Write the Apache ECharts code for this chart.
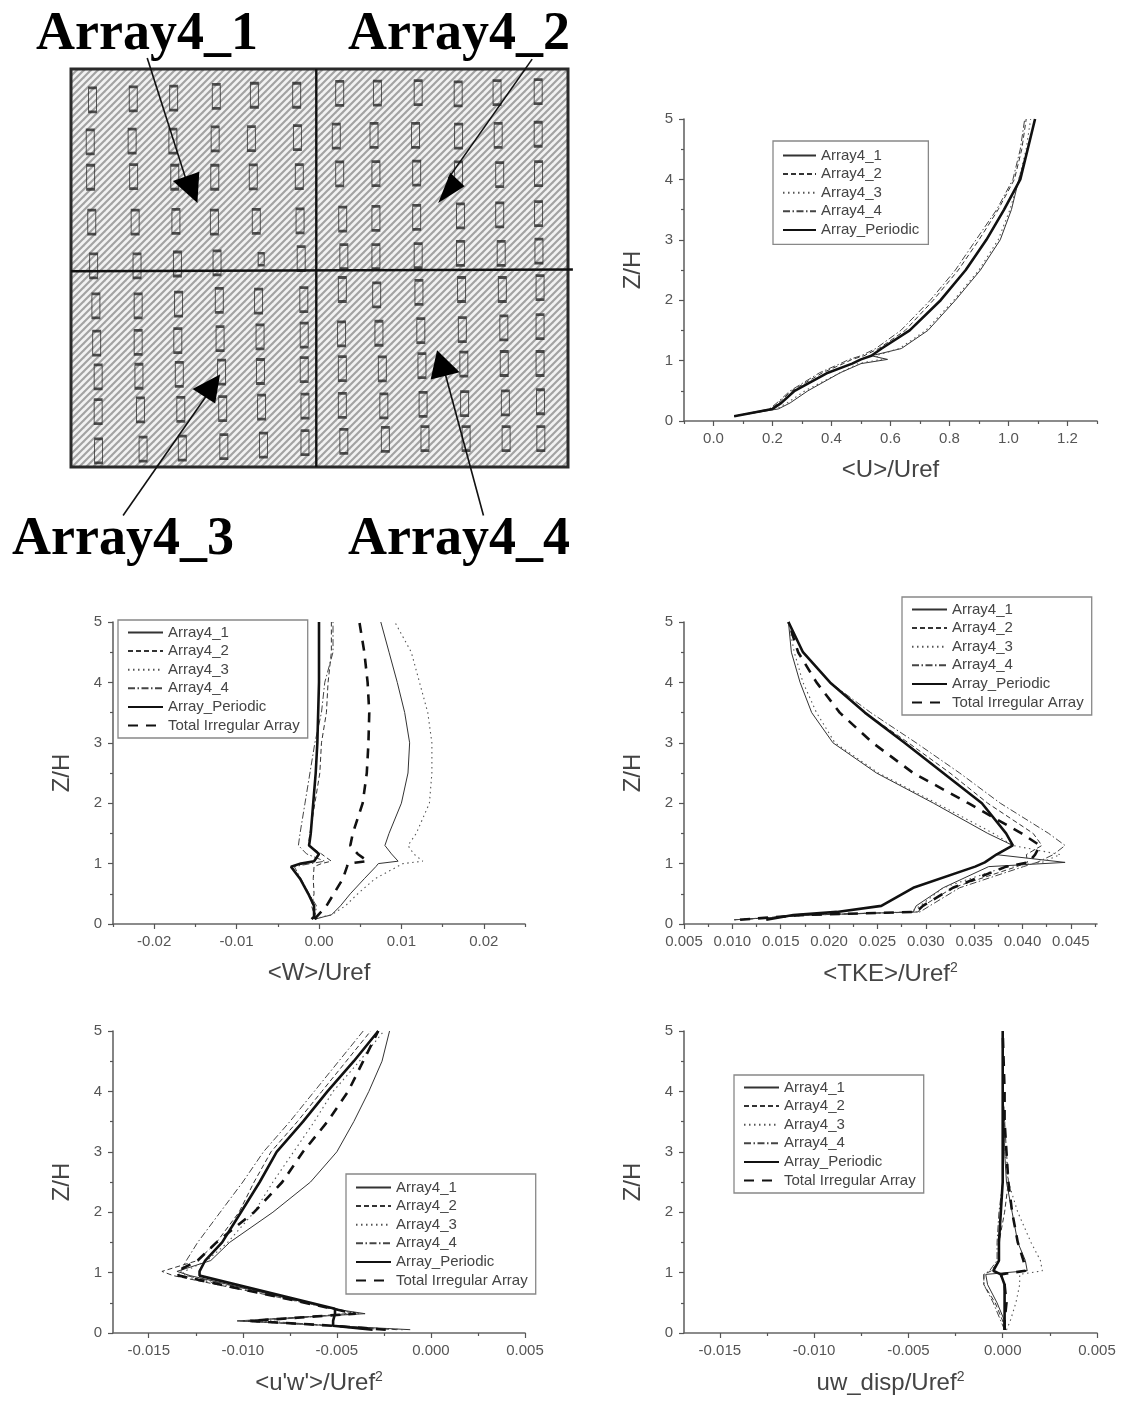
<!DOCTYPE html>
<html><head><meta charset="utf-8">
<style>html,body{margin:0;padding:0;background:#fff}#c{width:1121px;height:1401px;filter:blur(0.45px)}</style>
<script src="https://cdn.jsdelivr.net/npm/echarts@6/dist/echarts.min.js"></script>
</head><body><div id="c"></div>
<script>
// ---------- series names ----------
const names = ['Array4_1','Array4_2','Array4_3','Array4_4','Array_Periodic','Total Irregular Array'];

// ---------- panel <U>/Uref ----------
const zU  = [0.08,0.2,0.3,0.5,0.8,0.95,1.02,1.08,1.2,1.5,2,2.5,3,3.5,4,4.5,5];
const uA1 = [.07,.22,.26,.32,.43,.50,.59,.535,.637,.727,.82,.905,.972,1.01,1.035,1.065,1.09];
const uA2 = [.07,.195,.22,.265,.37,.44,.47,.51,.56,.65,.745,.83,.90,.965,1.02,1.045,1.06];
const uA3 = [.07,.215,.25,.31,.43,.49,.57,.55,.63,.72,.815,.90,.965,1.005,1.035,1.06,1.075];
const uA4 = [.07,.19,.215,.26,.36,.43,.46,.50,.55,.635,.735,.82,.89,.96,1.015,1.04,1.055];
const uP  = [.07,.2,.23,.275,.388,.47,.50,.535,.57,.665,.77,.855,.925,.985,1.04,1.065,1.09];
const uMajor = [0,.2,.4,.6,.8,1,1.2];
const uMinor = [-.1,.1,.3,.5,.7,.9,1.1,1.3];

// ---------- panel <W>/Uref ----------
const zW  = [.08,.12,.15,.3,.5,.75,.95,1.0,1.04,1.16,1.3,1.5,2,2.5,3,3.5,4,4.5,5];
const wA1 = [-.0005,.0006,.0015,.0026,.0038,.0055,.0069,.0072,.0096,.0088,.008,.0085,.01,.0108,.011,.0104,.0095,.0085,.0075];
const wA2 = [-.0005,-.0005,-.0004,-.0009,-.0006,-.0007,-.0006,.0003,.0015,.0003,-.0013,-.0011,-.0005,.0001,.0003,.0009,.0011,.0015,.0015];
const wA3 = [-.0005,.0004,.0015,.0032,.0047,.0068,.0095,.0102,.0126,.0115,.0108,.0118,.0134,.0137,.0137,.0132,.0122,.0112,.0092];
const wA4 = [-.0007,-.0005,-.0003,-.0003,-.0012,-.0022,-.003,-.001,.0007,-.0015,-.0025,-.0023,-.0017,-.0011,-.0005,.0003,.0007,.0017,.0017];
const wP  = [-.0009,-.0006,-.0004,-.0006,-.0013,-.0023,-.0034,-.0022,-.0006,0,-.0012,-.001,-.0007,-.0004,-.0002,-.0001,0,0,0];
const wT  = [-.0005,-.0003,-.0001,.0009,.0018,.0029,.0034,.0035,.0059,.0047,.0038,.0041,.0053,.0058,.006,.0061,.0059,.0055,.0049];
const wMajor = [-.02,-.01,0,.01,.02];
const wMinor = [-.025,-.015,-.005,.005,.015,.025];

// ---------- panel <TKE>/Uref2 ----------
const zK  = [.07,.15,.2,.3,.6,.95,1.02,1.15,1.3,1.5,2,2.5,3,3.5,4,4.5,5];
const kA1 = [.0102,.0185,.0287,.029,.0318,.0365,.0444,.0372,.039,.0364,.0308,.0249,.0204,.0182,.017,.0161,.0158];
const kA2 = [.0108,.0172,.0292,.0297,.0328,.0394,.0405,.0404,.042,.0411,.0364,.0325,.0282,.0237,.0201,.0173,.0158];
const kA3 = [.0102,.018,.0285,.0294,.0318,.0383,.042,.0439,.039,.037,.0311,.0251,.0206,.0187,.0173,.0164,.0158];
const kA4 = [.0102,.0185,.0294,.0304,.0335,.0401,.0415,.0432,.0444,.0427,.0377,.0335,.029,.0243,.0201,.0173,.0158];
const kP  = [.0135,.0163,.0208,.0254,.0287,.0351,.0361,.0373,.039,.0383,.0358,.0318,.0278,.0237,.0201,.0173,.0158];
const kT  = [.0108,.0172,.029,.0297,.0328,.0383,.0406,.0413,.0418,.0399,.0344,.0287,.0245,.0211,.0187,.0168,.0158];
const kMajor = [.005,.01,.015,.02,.025,.03,.035,.04,.045];
const kMinor = [.0075,.0125,.0175,.0225,.0275,.0325,.0375,.0425,.0475];

// ---------- panel <u'w'>/Uref2 ----------
const zS  = [.055,.12,.2,.32,.4,.95,1.02,1.2,1.5,2,2.5,3,3.5,4,4.5,5];
const sA1 = [-.0011,-.0052,-.0103,-.0035,-.0052,-.0128,-.0135,-.0117,-.0107,-.0084,-.0064,-.005,-.0041,-.0033,-.0026,-.0022];
const sA2 = [-.0018,-.0052,-.0100,-.0040,-.0051,-.0137,-.0143,-.0124,-.0114,-.0102,-.0094,-.0085,-.0071,-.0058,-.0045,-.0032];
const sA3 = [-.0015,-.0053,-.0102,-.0038,-.0053,-.0133,-.0131,-.0119,-.0108,-.0094,-.0084,-.0073,-.0062,-.0052,-.0038,-.0025];
const sA4 = [-.0025,-.0051,-.0090,-.0045,-.0050,-.0130,-.0133,-.0130,-.0124,-.0112,-.0100,-.0089,-.0075,-.0062,-.0049,-.0036];
const sP  = [-.0031,-.0052,-.0052,-.0051,-.0051,-.0123,-.0123,-.012,-.0111,-.0101,-.0091,-.0082,-.0068,-.0055,-.0041,-.0028];
const sT  = [-.0024,-.0052,-.0096,-.0040,-.0052,-.0134,-.0135,-.0124,-.0114,-.0094,-.0079,-.0068,-.0055,-.0044,-.0036,-.0028];
const sMajor = [-.015,-.01,-.005,0,.005];
const sMinor = [-.0125,-.0075,-.0025,.0025];

// ---------- panel uw_disp/Uref2 ----------
const zD  = [.05,.2,.5,.8,.97,1.03,1.2,1.5,2,2.5,3,3.5,4,5];
const dA1 = [.0001,.0001,-.0003,-.0008,-.0009,.0013,.0012,.0008,.0005,.0002,.0001,.0001,0,0];
const dA2 = [.0001,0,-.0004,-.001,-.001,-.0006,-.0002,-.0002,.0001,.0003,.0002,.0001,0,0];
const dA3 = [.0002,.0004,.0007,.0009,.0009,.0021,.002,.0015,.0008,.0003,.0001,.0001,0,0];
const dA4 = [.0001,-.0001,-.0005,-.001,-.001,-.0007,-.0003,-.0003,-.0002,0,0,0,0,0];
const dP  = [.0001,.0001,.0001,.0001,-.0001,-.0005,-.0002,-.0002,-.0001,0,0,0,0,0];
const dT  = [.0001,.0001,.0002,.0001,-.0001,.0012,.0011,.0008,.0005,.0003,.0002,.0001,.0001,0];

// ---------- schematic (plan of the array, in drawing units) ----------
const planFrame = [[190,190,1507,1282]];
const planBuildings = [
 [247,275],[355,272],[462,270],[575,265],[676,262],[788,262],
 [241,390],[352,388],[460,388],[572,382],[668,381],[790,378],
 [242,487],[356,485],[465,487],[571,487],[673,486],[795,485],
 [245,610],[360,610],[468,608],[570,610],[681,608],[797,607],
 [250,730],[365,730],[472,725],[577,722],[800,710],
 [902,257],[1002,256],[1110,255],[1216,258],[1319,255],[1428,252],
 [893,374],[993,372],[1103,372],[1217,374],[1322,372],[1428,369],
 [902,478],[998,477],[1106,476],[1217,478],[1326,480],[1429,477],
 [910,602],[998,600],[1106,597],[1222,593],[1326,590],[1429,587],
 [913,705],[998,705],[1110,702],[1222,696],[1330,696],[1430,690],
 [256,840],[368,840],[475,835],[583,825],[687,827],[807,823],
 [258,942],[368,940],[473,935],[585,930],[691,925],[808,920],
 [262,1035],[370,1033],[477,1028],[589,1022],[692,1020],[808,1015],
 [262,1130],[374,1125],[481,1124],[592,1122],[695,1118],[810,1115],
 [263,1238],[381,1233],[485,1230],[595,1226],[700,1222],[810,1215],
 [909,795],[1000,810],[1112,803],[1225,795],[1333,795],[1433,790],
 [907,917],[1006,915],[1117,908],[1227,905],[1337,900],[1433,897],
 [909,1012],[1015,1013],[1120,1004],[1231,1000],[1338,998],[1433,998],
 [909,1113],[1019,1114],[1123,1110],[1233,1108],[1341,1106],[1434,1103],
 [913,1212],[1023,1206],[1128,1204],[1237,1204],[1343,1204],[1435,1204]
];
const planSmallBuildings = [[694,712]];
const planDividers = [[840,190,840,1282],[190,745,1520,740]];
const planArrowShafts = [[392,160,500,510],[1412,163,1190,490],[328,1415,560,1070],[1283,1415,1180,1020]];
const planArrowHeads = [
 [525,558,530,472,460,497],
 [1163,558,1195,475,1233,512],
 [585,1028,512,1068,572,1108],
 [1160,962,1143,1042,1220,1022]
];
const planLabels = ['Array4_1','Array4_2','Array4_3','Array4_4'];

// ---------- build ----------
const FONT = '"Liberation Sans", Arial, sans-serif';
const INK = '#444';
const styles = [
 {width:1,  type:'solid',   color:'#333'},
 {width:1,  type:[5,3],     color:'#333'},
 {width:1.1,type:[1.5,3.5], color:'#555'},
 {width:1,  type:[7,2.5,1.5,2.5], color:'#444'},
 {width:2.6,type:'solid',   color:'#111'},
 {width:2.6,type:[10,8],    color:'#111'}
];
const panels = [
 {box:[684,119,413,302], x:[-.1,1.3], major:uMajor, minor:uMinor, fmt:1, name:'<U>/Uref', z:zU, vals:[uA1,uA2,uA3,uA4,uP],
  legend:{left:773,top:141,w:33,pad:[7,9,7,9],gap:3.6}},
 {box:[113,622,412,302], x:[-.025,.025], major:wMajor, minor:wMinor, fmt:2, name:'<W>/Uref', z:zW, vals:[wA1,wA2,wA3,wA4,wP,wT],
  legend:{left:118,top:620,w:35,pad:[5,8,5,9],gap:3.6}},
 {box:[684,622,413,302], x:[.005,.0477], major:kMajor, minor:kMinor, fmt:3, name:'<TKE>/Uref{sup|2}', z:zK, vals:[kA1,kA2,kA3,kA4,kP,kT],
  legend:{left:902,top:597,w:35,pad:[5,8,5,9],gap:3.6}},
 {box:[113,1031,412,302], x:[-.0169,.005], major:sMajor, minor:sMinor, fmt:3, name:"<u'w'>/Uref{sup|2}", z:zS, vals:[sA1,sA2,sA3,sA4,sP,sT],
  legend:{left:346,top:1174,w:35,pad:[6,8,6,9],gap:3.6}},
 {box:[684,1031,413,302], x:[-.0169,.005], major:sMajor, minor:sMinor, fmt:3, name:'uw_disp/Uref{sup|2}', z:zD, vals:[dA1,dA2,dA3,dA4,dP,dT],
  legend:{left:734,top:1075,w:35,pad:[5,8,5,9],gap:3.6}}
];
const axisLine = {show:true, onZero:false, lineStyle:{color:'#666', width:1.6}};
const grid=[], xAxis=[], yAxis=[], series=[], legend=[];
panels.forEach((p,i)=>{
  grid.push({left:p.box[0],top:p.box[1],width:p.box[2],height:p.box[3]});
  const gi=grid.length-1;
  const xMain=xAxis.length;
  xAxis.push({type:'value',gridIndex:gi,min:p.x[0],max:p.x[1],position:'bottom',
    axisLine, splitLine:{show:false},
    axisTick:{show:true,length:5,customValues:p.major,lineStyle:{color:'#555',width:1.2}},
    axisLabel:{show:true,customValues:p.major,margin:10,color:'#555',fontFamily:FONT,fontSize:15,
      hideOverlap:false,showMinLabel:true,showMaxLabel:true,
      formatter:v=>Number(v).toFixed(p.fmt)},
    name:p.name,nameLocation:'middle',nameGap:37,
    nameTextStyle:{color:INK,fontFamily:FONT,fontSize:24,
      rich:{sup:{fontFamily:FONT,fontSize:14,color:INK,verticalAlign:'top',padding:[0,0,12,0]}}}});
  xAxis.push({type:'value',gridIndex:gi,min:p.x[0],max:p.x[1],position:'bottom',
    axisLine:{show:false},splitLine:{show:false},axisLabel:{show:false},
    axisTick:{show:true,length:3,customValues:p.minor,lineStyle:{color:'#555',width:1.2}}});
  yAxis.push({type:'value',gridIndex:gi,min:0,max:5,interval:1,position:'left',
    axisLine,splitLine:{show:false},
    axisTick:{show:true,length:5,lineStyle:{color:'#555',width:1.2}},
    minorTick:{show:true,splitNumber:2,length:3,lineStyle:{color:'#555',width:1.2}},
    axisLabel:{margin:11,color:'#555',fontFamily:FONT,fontSize:15},
    name:'Z/H',nameLocation:'middle',nameGap:39,nameRotate:90,
    nameTextStyle:{color:INK,fontFamily:FONT,fontSize:24}});
  p.vals.forEach((v,k)=>{
    series.push({type:'line',name:names[k],xAxisIndex:xMain,yAxisIndex:gi,
      data:v.map((x,j)=>[x,p.z[j]]),symbol:'none',silent:true,clip:false,
      lineStyle:styles[k],itemStyle:{color:styles[k].color},z:3+k,animation:false});
  });
  const L=p.legend;
  legend.push({show:true,orient:'vertical',left:L.left,top:L.top,selectedMode:false,
    data:names.slice(0,p.vals.length),itemWidth:L.w,itemHeight:14,itemGap:L.gap,padding:L.pad,
    itemStyle:{opacity:0,color:'transparent',borderColor:'transparent',borderWidth:0},
    borderColor:'#888',borderWidth:1.3,backgroundColor:'#fff',z:20,
    textStyle:{color:INK,fontFamily:FONT,fontSize:15,lineHeight:14}});
});

// schematic grid: drawing units mapped onto the plan's rectangle
grid.push({left:71,top:69,width:497,height:398});
const gS=grid.length-1, xS=xAxis.length, yS=yAxis.length;
xAxis.push({type:'value',gridIndex:gS,min:190,max:1507,show:false});
yAxis.push({type:'value',gridIndex:gS,min:190,max:1282,inverse:true,show:false});
function hatch(){
  const c=document.createElement('canvas'); c.width=7; c.height=7;
  const g=c.getContext('2d'); g.fillStyle='#f2f2f2'; g.fillRect(0,0,7,7);
  g.strokeStyle='#a2a2a2'; g.lineWidth=2.1; g.lineCap='square';
  [[-7,7,7,-7],[0,7,7,0],[0,14,14,0]].forEach(s=>{g.beginPath();g.moveTo(s[0],s[1]);g.lineTo(s[2],s[3]);g.stroke();});
  return c;
}
const onPlan={xAxisIndex:xS,yAxisIndex:yS,silent:true,clip:false,animation:false};
series.push(Object.assign({type:'custom',name:'plan',data:planFrame,z:1,
  renderItem:(ps,api)=>{
    const a=api.coord([api.value(0),api.value(1)]), b=api.coord([api.value(2),api.value(3)]);
    return {type:'rect',shape:{x:a[0],y:a[1],width:b[0]-a[0],height:b[1]-a[1]},
      style:{fill:{image:hatch(),repeat:'repeat'},stroke:'#2a2a2a',lineWidth:3}};
  }},onPlan));
series.push(Object.assign({type:'scatter',name:'buildings',data:planBuildings,symbol:'rect',symbolSize:[8,24],z:2,
  itemStyle:{color:'rgba(0,0,0,0)',borderColor:'#262626',borderWidth:1.6}},onPlan));
series.push(Object.assign({type:'scatter',name:'small buildings',data:planSmallBuildings,symbol:'rect',symbolSize:[6,12],z:2,
  itemStyle:{color:'rgba(0,0,0,0)',borderColor:'#262626',borderWidth:1.6}},onPlan));
const segment=(w)=>(ps,api)=>{
  const a=api.coord([api.value(0),api.value(1)]), b=api.coord([api.value(2),api.value(3)]);
  return {type:'line',shape:{x1:a[0],y1:a[1],x2:b[0],y2:b[1]},style:{stroke:'#111',lineWidth:w}};
};
series.push(Object.assign({type:'custom',name:'dividers',data:planDividers,z:3,renderItem:segment(2.4)},onPlan));
series.push(Object.assign({type:'custom',name:'arrow shafts',data:planArrowShafts,z:4,renderItem:segment(1.6)},onPlan));
series.push(Object.assign({type:'custom',name:'arrow heads',data:planArrowHeads,z:5,
  renderItem:(ps,api)=>({type:'polygon',shape:{points:[0,2,4].map(i=>api.coord([api.value(i),api.value(i+1)]))},style:{fill:'#000'}})},onPlan));

const labelPos=[[36,8],[348,8],[12,513],[348,513]];
const graphic=planLabels.map((t,i)=>({type:'text',left:labelPos[i][0],top:labelPos[i][1],z:30,
  style:{text:t,fill:'#000',font:'bold 54px "Liberation Serif", "Times New Roman", serif'}}));

const chart=echarts.init(document.getElementById('c'),null,{renderer:'canvas',width:1121,height:1401});
chart.setOption({animation:false,backgroundColor:'#fff',grid,xAxis,yAxis,legend,series,graphic});
</script></body></html>
